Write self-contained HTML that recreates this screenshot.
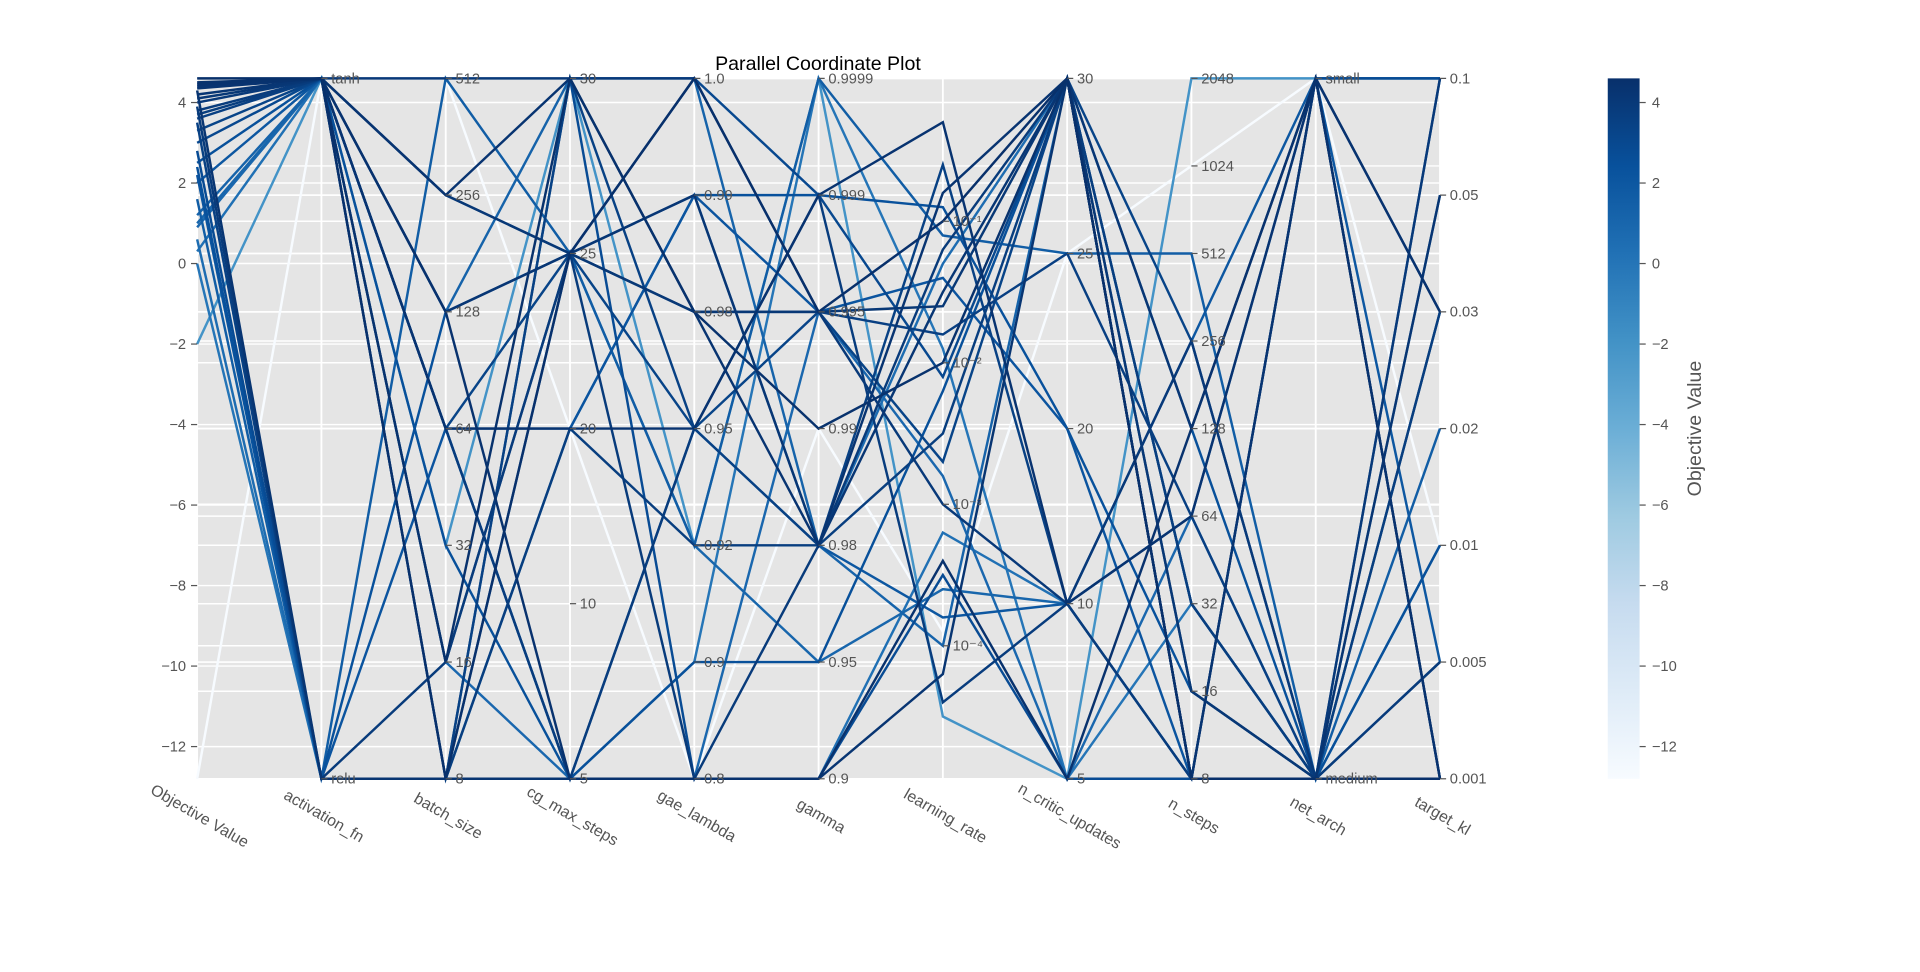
<!DOCTYPE html>
<html><head><meta charset="utf-8"><style>
body{margin:0;background:#fff;}
svg text{font-family:"Liberation Sans","DejaVu Sans",sans-serif;}
</style></head><body>
<svg id="chart" width="1920" height="967" viewBox="0 0 1568 789.7" xmlns="http://www.w3.org/2000/svg">
<rect x="161" y="64" width="1015" height="572" fill="#e5e5e5"/>
<g id="grid"></g><g id="lines"></g><g id="axes"></g>
<text x="668" y="57" text-anchor="middle" font-size="16" fill="#000">Parallel Coordinate Plot</text>
<defs><linearGradient id="cb" x1="0" y1="1" x2="0" y2="0">
<stop offset="0" stop-color="#f7fbff"/><stop offset="0.125" stop-color="#deebf7"/><stop offset="0.25" stop-color="#c6dbef"/><stop offset="0.375" stop-color="#9ecae1"/><stop offset="0.5" stop-color="#6baed6"/><stop offset="0.625" stop-color="#4292c6"/><stop offset="0.75" stop-color="#2171b5"/><stop offset="0.875" stop-color="#08519c"/><stop offset="1" stop-color="#08306b"/></linearGradient></defs>
<rect x="1313" y="64" width="26" height="572" fill="url(#cb)"/>
<g id="cbticks"></g>
<text transform="translate(1389,350) rotate(-90)" text-anchor="middle" font-size="16" fill="#555">Objective Value</text>
</svg>
<script>
const objective=[4.6,4.5,4.4,4.3,4.2,4.0,3.9,3.8,3.7,3.6,2.8,2.5,2.4,2.0,1.6,1.2,0.9,0.6,0.3,-2.0,-12.8,4.1,3.5,4.45,3.0,2.2,1.0,4.35,3.3,0.0];
const activation=[1,1,1,0,1,1,0,1,1,1,0,1,0,1,0,1,1,0,1,1,1,1,0,1,1,0,1,1,1,0];
const batchSize=[8,16,64,8,128,512,16,64,8,256,8,32,128,64,512,128,16,8,64,32,512,256,8,128,16,64,8,256,64,8];
const cgMaxSteps=[25,30,20,5,25,30,25,5,20,25,30,5,25,5,25,30,5,20,5,30,20,25,30,5,25,20,25,30,25,5];
const gaeLambda=[1.0,0.98,0.95,0.8,0.99,1.0,0.8,0.95,0.92,0.98,0.8,0.9,0.99,0.95,0.92,1.0,0.8,0.99,0.8,0.92,0.8,0.98,0.95,0.8,1.0,0.99,0.92,0.98,0.95,0.9];
const gamma=[0.995,0.99,0.999,0.9,0.98,0.995,0.98,0.999,0.98,0.995,0.9,0.95,0.999,0.98,0.9999,0.98,0.995,0.98,0.9,0.9999,0.99,0.995,0.98,0.9,0.999,0.995,0.95,0.98,0.995,0.9999];
const lrLog=[-1,-2,-0.3,-4.2,-1.5,-3,-1.2,-4.4,-2.5,-1.8,-3.5,-2.2,-0.9,-3.8,-1.1,-4,-2.8,-1.3,-3.2,-4.5,-3.9,-1.6,-0.6,-3.4,-2.1,-1.4,-3.6,-0.8,-2.7,-1.9];
const nCritic=[30,30,10,30,30,10,30,10,30,25,5,30,20,10,25,30,5,30,10,5,25,30,10,5,30,20,10,30,30,5];
const nSteps=[8,8,64,8,128,256,16,8,32,64,8,128,16,256,512,8,64,32,8,2048,1024,16,8,128,32,8,64,8,256,32];
const netArch=[0,0,1,0,1,0,0,1,0,0,1,0,0,1,0,0,1,0,0,1,1,0,0,1,0,0,0,1,0,0];
const targetKl=[0.001,0.001,0.03,0.05,0.001,0.1,0.005,0.001,0.03,0.001,0.1,0.01,0.001,0.005,0.02,0.001,0.1,0.001,0.05,0.1,0.01,0.001,0.03,0.001,0.005,0.1,0.001,0.03,0.001,0.01];
const axisNames=["Objective Value","activation_fn","batch_size","cg_max_steps","gae_lambda","gamma","learning_rate","n_critic_updates","n_steps","net_arch","target_kl"];
const objTicks=[4,2,0,-2,-4,-6,-8,-10,-12];
const batchLevels=[8,16,32,64,128,256,512];
const cgLevels=[5,10,20,25,30];
const gaeLevels=[0.8,0.9,0.92,0.95,0.98,0.99,1.0];
const gammaLevels=[0.9,0.95,0.98,0.99,0.995,0.999,0.9999];
const lrTicks=[-4,-3,-2,-1];
const criticLevels=[5,10,20,25,30];
const stepsLevels=[8,16,32,64,128,256,512,1024,2048];
const netLevels=["medium","small"];
const klLevels=[0.001,0.005,0.01,0.02,0.03,0.05,0.1];

const NS="http://www.w3.org/2000/svg";
const TOP=64,BOT=636,X0=161,DX=101.5;
const OMIN=-12.8,OMAX=4.6;
const ax=i=>X0+i*DX;
const yObj=v=>BOT-(v-OMIN)/(OMAX-OMIN)*(BOT-TOP);
const yCat=(levels,v)=>BOT-levels.indexOf(v)/(levels.length-1)*(BOT-TOP);
const yLr=v=>BOT-(v-(-4.94))/(0.01-(-4.94))*(BOT-TOP);
function el(t,a,p){const e=document.createElementNS(NS,t);for(const k in a)e.setAttribute(k,a[k]);p.appendChild(e);return e;}
const stops=[[247,251,255],[222,235,247],[198,219,239],[158,202,225],[107,174,214],[66,146,198],[33,113,181],[8,81,156],[8,48,107]];
function cmap(v){let t=(v-OMIN)/(OMAX-OMIN);t=Math.max(0,Math.min(1,t))*8;const i=Math.min(7,Math.floor(t)),f=t-i;const a=stops[i],b=stops[i+1];return `rgb(${a.map((c,k)=>Math.round(c+(b[k]-c)*f)).join(',')})`;}

const grid=document.getElementById('grid'),axes=document.getElementById('axes'),lines=document.getElementById('lines');
const gridYs=[];
objTicks.forEach(v=>gridYs.push(yObj(v)));
batchLevels.forEach(v=>gridYs.push(yCat(batchLevels,v)));
cgLevels.forEach(v=>gridYs.push(yCat(cgLevels,v)));
stepsLevels.forEach(v=>gridYs.push(yCat(stepsLevels,v)));
klLevels.forEach(v=>gridYs.push(yCat(klLevels,v)));
lrTicks.forEach(v=>gridYs.push(yLr(v)));
gridYs.forEach(y=>{const g=el('line',{x1:161,x2:1176,y1:y,y2:y,stroke:'#fff','stroke-width':1.2},grid);

});
for(let i=0;i<11;i++){const g=el('line',{x1:ax(i),x2:ax(i),y1:TOP,y2:BOT,stroke:'#fff','stroke-width':1.5},grid);

}

const order=objective.map((v,i)=>i).sort((a,b)=>objective[a]-objective[b]);
order.forEach(i=>{
 const ys=[yObj(objective[i]),yCat([0,1],activation[i]),yCat(batchLevels,batchSize[i]),yCat(cgLevels,cgMaxSteps[i]),yCat(gaeLevels,gaeLambda[i]),yCat(gammaLevels,gamma[i]),yLr(lrLog[i]),yCat(criticLevels,nCritic[i]),yCat(stepsLevels,nSteps[i]),yCat([0,1],netArch[i]),yCat(klLevels,targetKl[i])];
 const p=el('polyline',{points:ys.map((y,k)=>ax(k)+','+y).join(' '),fill:'none',stroke:cmap(objective[i]),'stroke-width':2},lines);
 
 
});

function tick(x,y,label,left){
 el('line',{x1:left?x-5:x,x2:left?x:x+5,y1:y,y2:y,stroke:'#555'},axes);
 const t=el('text',{x:left?x-9:x+8,y:y+4,'font-size':12,fill:'#555','text-anchor':left?'end':'start'},axes);
 t.textContent=label;
 
 
}
objTicks.forEach(v=>tick(ax(0),yObj(v),String(v).replace('-','−'),true));
tick(ax(1),TOP,'tanh');tick(ax(1),BOT,'relu');
batchLevels.forEach(v=>tick(ax(2),yCat(batchLevels,v),String(v)));
cgLevels.forEach(v=>tick(ax(3),yCat(cgLevels,v),String(v)));
gaeLevels.forEach(v=>tick(ax(4),yCat(gaeLevels,v),v===1?'1.0':String(v)));
gammaLevels.forEach(v=>tick(ax(5),yCat(gammaLevels,v),String(v)));
lrTicks.forEach(v=>tick(ax(6),yLr(v),'10'+['⁻⁴','⁻³','⁻²','⁻¹'][v+4]));
criticLevels.forEach(v=>tick(ax(7),yCat(criticLevels,v),String(v)));
stepsLevels.forEach(v=>tick(ax(8),yCat(stepsLevels,v),String(v)));
tick(ax(9),BOT,'medium');tick(ax(9),TOP,'small');
klLevels.forEach(v=>tick(ax(10),yCat(klLevels,v),String(v)));
axisNames.forEach((n,i)=>{
 const t=el('text',{transform:`translate(${ax(i)},670) rotate(30)`,'text-anchor':'middle','font-size':13,fill:'#555'},axes);
 t.textContent=n;
 
 
});
const cbt=document.getElementById('cbticks');
objTicks.forEach(v=>{const y=yObj(v);
 el('line',{x1:1339,x2:1344,y1:y,y2:y,stroke:'#555'},cbt);
 const t=el('text',{x:1349,y:y+4,'font-size':12,fill:'#555'},cbt);
 t.textContent=String(v).replace('-','−');
 
 });
</script>
</body></html>
